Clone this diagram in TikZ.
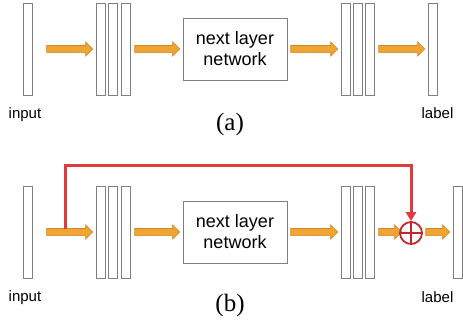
\documentclass[tikz,border=0pt]{standalone}
\usepackage{fontspec}
\setmainfont{Liberation Sans}
\newfontfamily\capfont{Liberation Serif}
\usetikzlibrary{shapes.arrows,arrows.meta}
\definecolor{barc}{HTML}{7F7F7F}
\definecolor{arrfill}{HTML}{F0A434}
\definecolor{arrline}{HTML}{D08A20}
\definecolor{skipc}{HTML}{E23A3C}
\definecolor{plusc}{HTML}{C0282D}
\tikzset{
  bar/.style={draw=barc, line width=0.9pt, fill=white, minimum width=9pt, minimum height=92pt, inner sep=0pt},
  netbox/.style={draw=barc, line width=0.9pt, minimum width=104pt, minimum height=62pt, align=center, font=\fontsize{18}{21}\selectfont, inner sep=0pt},
  barrow/.style={single arrow, draw=arrline, fill=arrfill, line width=0.6pt, inner sep=0pt,
     text height=6.5pt, text depth=0pt, text width=0pt,
     single arrow head extend=3.5pt, single arrow head indent=0pt, minimum height=#1},
  lbl/.style={font=\fontsize{15}{17}\selectfont, inner sep=0pt},
  captext/.style={font=\capfont\fontsize{25}{27}\selectfont, inner sep=0pt},
  skipline/.style={draw=skipc, line width=3pt},
  plusnode/.style={circle, draw=plusc, line width=1.8pt, minimum size=22pt, inner sep=0pt,
     path picture={\draw[plusc, line width=1.6pt] (path picture bounding box.north) -- (path picture bounding box.south)
        (path picture bounding box.west) -- (path picture bounding box.east);}}
}
\begin{document}
\begin{tikzpicture}[x=1pt,y=-1pt]
\useasboundingbox (0,0) rectangle (463,324);
% ---------- (a) ----------
\node[bar] (ain) at (27.5,49) {};
\node[barrow=46pt] (aa1) at (68,49) {};
\node[bar] (ah1) at (101,49) {};
\node[bar] (ah2) at (112.5,49) {};
\node[bar] (ah3) at (125.5,49) {};
\node[barrow=45pt] (aa2) at (155.5,49) {};
\node[netbox] (anet) at (235,49) {next layer\\network};
\node[barrow=47pt] (aa3) at (312.5,49) {};
\node[bar] (ag1) at (345.5,49) {};
\node[bar] (ag2) at (357.5,49) {};
\node[bar] (ag3) at (370,49) {};
\node[barrow=46pt] (aa4) at (400,49) {};
\node[bar] (aout) at (432.5,49) {};
\node[lbl] (ainl) at (25,115) {input};
\node[lbl] (aoutl) at (437.5,113) {label};
\node[captext] (acap) at (230,124) {(a)};
% ---------- (b) ----------
\node[bar] (bin) at (27.5,232) {};
\node[barrow=46pt] (ba1) at (68,232) {};
\node[bar] (bh1) at (101,232) {};
\node[bar] (bh2) at (112.5,232) {};
\node[bar] (bh3) at (125.5,232) {};
\node[barrow=45pt] (ba2) at (155.5,232) {};
\node[netbox] (bnet) at (235,232) {next layer\\network};
\node[barrow=47pt] (ba3) at (312.5,232) {};
\node[bar] (bg1) at (345.5,232) {};
\node[bar] (bg2) at (357.5,232) {};
\node[bar] (bg3) at (370,232) {};
\node[barrow=23pt] (ba5) at (388.5,232) {};
\node[plusnode] (plus) at (411,233) {};
\node[barrow=24pt] (ba6) at (436,232) {};
\node[bar] (bout) at (457.5,232) {};
\node[lbl] (binl) at (25,298) {input};
\node[lbl] (boutl) at (437.5,297) {label};
\node[captext] (bcap) at (230,305) {(b)};
% skip connection
\coordinate (s) at (65,228.5);
\draw[skipline, -{Triangle[length=9pt,width=10pt]}] (s) -- (65,165) -| (plus.north);
\end{tikzpicture}
\end{document}
